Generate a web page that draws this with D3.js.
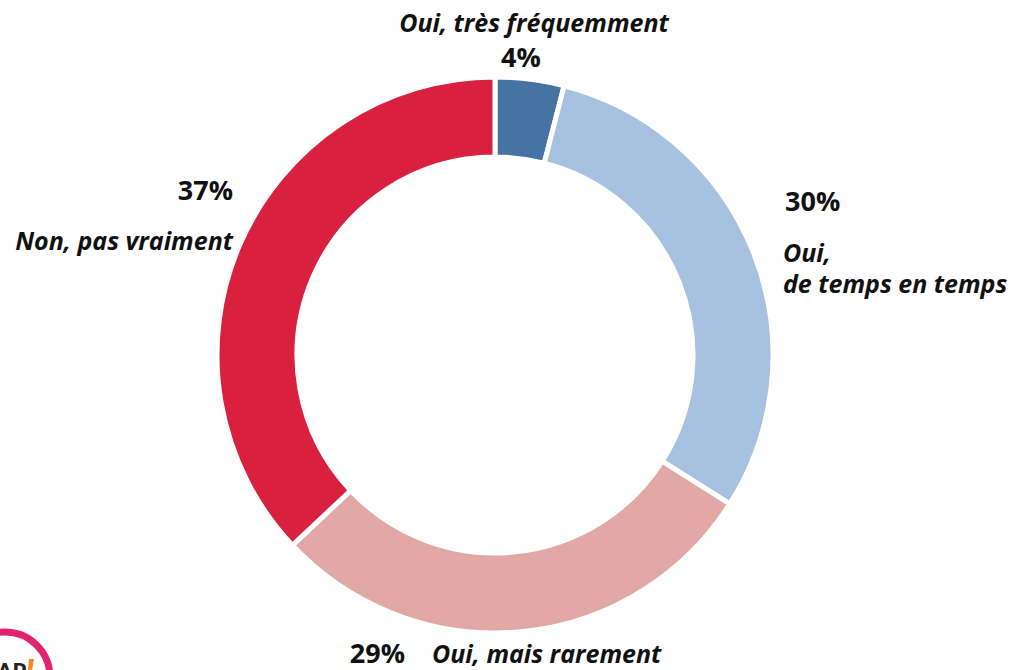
<!DOCTYPE html>
<html>
<head>
<meta charset="utf-8">
<script src="https://cdn.jsdelivr.net/npm/d3@7"></script>
<style>
  body { margin: 0; background: #fff; }
  svg { display: block; }
  .pct { font-family: "Open Sans", Lato, sans-serif; font-weight: 700; font-size: 27px; fill: #111; }
  .lab { font-family: "Open Sans", Lato, sans-serif; font-weight: 700; font-style: italic; font-size: 25px; fill: #111; }
</style>
</head>
<body>
<script>
// data
var categories = ["Oui, très fréquemment", "Oui, de temps en temps", "Oui, mais rarement", "Non, pas vraiment"];
var values = [4, 30, 29, 37];
var colors = ["#4573a2", "#a7c1e0", "#e2a8a6", "#d9203e"];

var width = 1016, height = 670;
var cx = 495, cy = 355, outerR = 278, innerR = 198;

var svg = d3.select("body").append("svg")
    .attr("width", width)
    .attr("height", height);

var pie = d3.pie().sort(null).value(function (d) { return d; });
var arc = d3.arc().innerRadius(innerR).outerRadius(outerR);

var arcs = pie(values);

svg.append("g")
    .attr("transform", "translate(" + cx + "," + cy + ")")
  .selectAll("path")
    .data(arcs)
  .enter().append("path")
    .attr("d", arc)
    .style("fill", function (d, i) { return colors[i]; })
    .style("stroke", "#fff")
    .style("stroke-width", 5);

// labels (placed like the original slide)
var labels = [
  {pct: {x: 521, y: 67, a: "middle"}, lines: [{t: "Oui, très fréquemment", x: 534, y: 32, a: "middle"}]},
  {pct: {x: 785, y: 211, a: "start"}, lines: [{t: "Oui,", x: 783, y: 262, a: "start"}, {t: "de temps en temps", x: 783, y: 293, a: "start"}]},
  {pct: {x: 405, y: 663, a: "end"}, lines: [{t: "Oui, mais rarement", x: 432, y: 663, a: "start"}]},
  {pct: {x: 233, y: 200, a: "end"}, lines: [{t: "Non, pas vraiment", x: 233, y: 250, a: "end"}]}
];

var lg = svg.append("g");
labels.forEach(function (l, i) {
  lg.append("text")
      .attr("class", "pct")
      .attr("x", l.pct.x)
      .attr("y", l.pct.y)
      .attr("text-anchor", l.pct.a)
      .text(values[i] + "%");
  l.lines.forEach(function (ln) {
    lg.append("text")
        .attr("class", "lab")
        .attr("x", ln.x)
        .attr("y", ln.y)
        .attr("text-anchor", ln.a)
        .text(ln.t);
  });
});

// logo, cut by the bottom-left corner
var logo = svg.append("g");
logo.append("circle")
    .attr("cx", 5).attr("cy", 677).attr("r", 45)
    .style("fill", "none")
    .style("stroke", "#e0226f")
    .style("stroke-width", 7);
logo.append("text")
    .attr("x", -3).attr("y", 680)
    .style("font-family", "Lato, sans-serif")
    .style("font-weight", 900)
    .style("font-size", "22px")
    .style("fill", "#222")
    .text("AP");
logo.append("path")
    .attr("d", "M29,659 L34,659 L32,670 L28,670 Z")
    .style("fill", "#f08a1c");
</script>
</body>
</html>
